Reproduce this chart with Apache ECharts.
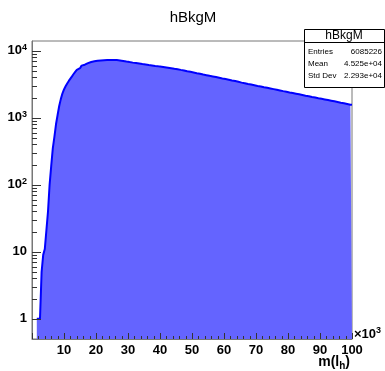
<!DOCTYPE html>
<html>
<head>
<meta charset="utf-8">
<script src="https://cdn.jsdelivr.net/npm/echarts@6/dist/echarts.min.js"></script>
<style>
  html, body { margin: 0; padding: 0; background: #fff; }
  #chart { width: 385px; height: 371px; }
</style>
</head>
<body>
<div id="chart"></div>
<script>
// histogram hBkgM: bins of width 500, first filled bin starts at 1500
const binWidth = 500;
const firstBin = 1500;
const counts = [
  1, 1, 1, 5, 9, 11, 21, 40, 100, 190,                         // 1.5k - 6k
  350, 520, 800, 1100, 1500, 1900, 2300, 2650, 2950, 3250,      // 6.5k - 11k
  3550, 3850, 4150, 4500, 4850, 5200, 5500, 5750, 6000, 6200,   // 11.5k - 16k
  6400, 6550, 6700, 6800, 6900, 6980, 7050, 7100, 7150, 7190,   // 16.5k - 21k
  7220, 7250, 7260, 7280, 7290, 7300, 7310, 7300, 7290, 7260,   // 21.5k - 26k
  7220, 7170, 7110, 7050, 6980, 6910, 6850, 6780, 6720, 6660,   // 26.5k - 31k
  6600, 6550, 6490, 6440, 6380, 6330, 6280, 6230, 6180, 6130,   // 31.5k - 36k
  6090, 6040, 6000, 5950, 5910, 5870, 5840, 5800, 5760, 5700,   // 36.5k - 41k
  5660, 5600, 5560, 5500, 5450, 5400, 5360, 5310, 5240, 5190,   // 41.5k - 46k
  5140, 5090, 5020, 4960, 4910, 4850, 4800, 4740, 4690, 4630,   // 46.5k - 51k
  4580, 4530, 4470, 4420, 4380, 4330, 4280, 4230, 4190, 4140,   // 51.5k - 56k
  4090, 4050, 4000, 3960, 3910, 3870, 3830, 3790, 3740, 3700,   // 56.5k - 61k
  3650, 3610, 3570, 3530, 3480, 3440, 3400, 3350, 3320, 3280,   // 61.5k - 66k
  3240, 3200, 3170, 3130, 3100, 3060, 3020, 2990, 2960, 2930,   // 66.5k - 71k
  2890, 2860, 2830, 2800, 2770, 2740, 2710, 2680, 2650, 2620,   // 71.5k - 76k
  2590, 2560, 2530, 2500, 2480, 2450, 2420, 2390, 2370, 2340,   // 76.5k - 81k
  2310, 2290, 2260, 2240, 2210, 2190, 2160, 2140, 2120, 2100,   // 81.5k - 86k
  2070, 2050, 2030, 2010, 1980, 1960, 1940, 1920, 1900, 1880,   // 86.5k - 91k
  1860, 1840, 1820, 1800, 1780, 1760, 1740, 1720, 1700, 1680,   // 91.5k - 96k
  1670, 1650, 1630, 1610, 1590, 1570, 1560                      // 96.5k - 99.5k
];
const xMajor = [0, 10000, 20000, 30000, 40000, 50000, 60000, 70000, 80000, 90000, 100000];
const xMinorStep = 2000;
const yMajor = [1, 10, 100, 1000, 10000];
const yMajorLabels = ["1", "10", "10{s|2}", "10{s|3}", "10{s|4}"];
const yMinor = [];
[1, 10, 100, 1000, 10000].forEach(d => {
  for (let m = 2; m <= 9; m++) if (d * m <= 14000) yMinor.push(d * m);
});
const statsTitle = "hBkgM";
const statsRows = [
  ["Entries", "6085226"],
  ["Mean", "4.525e+04"],
  ["Std Dev", "2.293e+04"]
];

const yMin = 0.5, yMax = 14000;

const points = counts.map((c, i) => [firstBin + i * binWidth, c]);
points.push([firstBin + counts.length * binWidth, counts[counts.length - 1]]);

// tick lists for the custom tick series: [value, isMajor]
const xTicks = [];
for (let v = 0; v <= 100000; v += xMinorStep) xTicks.push([v, xMajor.includes(v) ? 1 : 0]);
const yTicks = yMajor.map(v => [v, 1]).concat(yMinor.map(v => [v, 0]));

const chart = echarts.init(document.getElementById("chart"), null, { renderer: "canvas" });

const font = "Liberation Sans, Arial, Helvetica, sans-serif";
const tickStyle = { stroke: "#333", lineWidth: 1 };

chart.setOption({
  animation: false,
  title: {
    text: "hBkgM",
    left: 188, top: 5, textAlign: "center",
    textStyle: { fontFamily: font, fontSize: 15, fontWeight: "normal", color: "#000" }
  },
  grid: { left: 32, right: 33, top: 41, bottom: 32, show: true, borderColor: "#777", borderWidth: 1, outerBoundsMode: "none" },
  xAxis: {
    type: "value", min: 0, max: 100000, interval: 10000,
    axisLine: { lineStyle: { color: "#777" } },
    axisTick: { show: false },
    splitLine: { show: false },
    axisLabel: {
      showMinLabel: false, margin: 5,
      fontFamily: font, fontSize: 13, fontWeight: "bold", color: "#000",
      formatter: v => String(v / 1000)
    }
  },
  yAxis: {
    type: "log", min: yMin, max: yMax,
    axisLine: { show: true, lineStyle: { color: "#777" } },
    axisTick: { show: false },
    splitLine: { show: false },
    axisLabel: {
      customValues: yMajor, margin: 5,
      fontFamily: font, fontSize: 13, fontWeight: "bold", color: "#000",
      formatter: v => yMajorLabels[yMajor.indexOf(Math.round(v))] || "",
      rich: { s: { fontFamily: font, fontSize: 9, fontWeight: "bold", color: "#000", verticalAlign: "top", padding: [0, 0, 6, 0] } }
    }
  },
  series: [
    {
      type: "line", step: "end", data: points,
      symbol: "none",
      lineStyle: { color: "#0000ff", width: 2 },
      areaStyle: { color: "#6464ff", opacity: 1, origin: "start" }
    },
    {
      // x-axis ticks, drawn after the histogram so they sit on top of the fill
      type: "custom", data: xTicks, clip: false, silent: true, z: 5,
      renderItem: (params, api) => {
        const p = api.coord([api.value(0), yMin]);
        const x = Math.round(p[0]) + 0.5;
        const len = api.value(1) ? 6 : 3;
        return { type: "line", shape: { x1: x, y1: p[1], x2: x, y2: p[1] - len }, style: tickStyle };
      }
    },
    {
      // y-axis ticks, ROOT style (log minor ticks at 2..9)
      type: "custom", data: yTicks.map(t => [0, t[0], t[1]]), clip: false, silent: true, z: 5,
      renderItem: (params, api) => {
        const p = api.coord([0, api.value(1)]);
        const y = Math.round(p[1]) + 0.5;
        const len = api.value(2) ? 9 : 5;
        return { type: "line", shape: { x1: p[0], y1: y, x2: p[0] + len, y2: y }, style: tickStyle };
      }
    }
  ],
  graphic: [
    { type: "rect", z: 100, shape: { x: 304.5, y: 29.5, width: 80, height: 58 }, style: { fill: "#fff", stroke: "#000", lineWidth: 1 } },
    { type: "line", z: 101, shape: { x1: 304.5, y1: 42.5, x2: 385, y2: 42.5 }, style: { stroke: "#000", lineWidth: 1 } },
    { type: "text", z: 101, x: 344, y: 36, style: { text: statsTitle, align: "center", verticalAlign: "middle", font: "12px " + font, fill: "#000" } },
    ...statsRows.flatMap((r, i) => [
      { type: "text", z: 101, x: 308, y: 52 + i * 12, style: { text: r[0], align: "left", verticalAlign: "middle", font: "8px " + font, fill: "#000" } },
      { type: "text", z: 101, x: 382, y: 52 + i * 12, style: { text: r[1], align: "right", verticalAlign: "middle", font: "8px " + font, fill: "#000" } }
    ]),
    { type: "text", z: 101, x: 354, y: 334, style: { rich: { a: { font: "bold 13px " + font, fill: "#000" }, b: { font: "bold 9px " + font, fill: "#000", padding: [0, 0, 7, 0] } }, text: "{a|\u00d710}{b|3}", verticalAlign: "middle" } },
    { type: "text", z: 101, x: 350, y: 362, style: { rich: { a: { font: "bold 14px " + font, fill: "#000" }, b: { font: "bold 10px " + font, fill: "#000", padding: [8, 0, 0, 0] } }, text: "{a|m(l}{b|h}{a|)}", align: "right", verticalAlign: "middle" } }
  ]
});
</script>
</body>
</html>
